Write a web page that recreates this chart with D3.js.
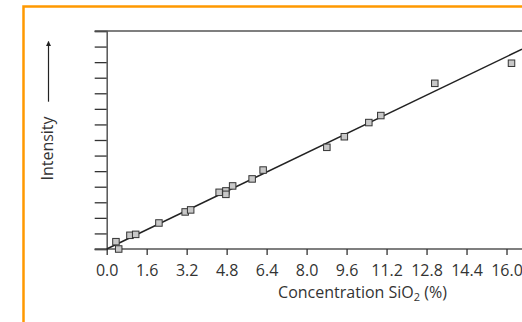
<!DOCTYPE html>
<html><head><meta charset="utf-8">
<script src="https://cdn.jsdelivr.net/npm/d3@7"></script>
<style>
html,body{margin:0;padding:0;background:#fff;}
svg{display:block;font-family:"Open Sans",sans-serif;}
</style></head>
<body>
<svg id="c" width="522" height="322"></svg>
<script>
// Data
const concentration = [0.37,0.48,0.93,1.16,2.09,3.14,3.36,4.50,4.77,4.77,5.04,5.82,6.26,8.81,9.51,10.49,10.97,13.13,16.2];
const intensity     = [0.47,0.0,0.88,0.94,1.67,2.38,2.51,3.64,3.73,3.51,4.05,4.50,5.07,6.53,7.21,8.12,8.57,10.64,11.93];
const xTickValues = [0,1.6,3.2,4.8,6.4,8.0,9.6,11.2,12.8,14.4,16.0];
const yTickValues = [0,1,2,3,4,5,6,7,8,9,10,11,12,13,14];
const fitLine = {x0:0, y0:0, x1:16.62, y1:12.83};

const svg = d3.select("#c");
const W = 522, H = 322;
const x = d3.scaleLinear().domain([0,16.62]).range([106.7,522]);
const y = d3.scaleLinear().domain([0,14]).range([249,31]);
const fs = "16px";

// orange frame
svg.append("path").attr("d",`M23.5,322 V6.5 H522`).attr("fill","none")
  .attr("stroke","#ff9900").attr("stroke-width",2.5);

const axisCol = "#555";
// y axis (ticks only)
const ya = svg.append("g").attr("transform",`translate(${x(0)},0)`)
  .call(d3.axisLeft(y).tickValues(yTickValues).tickSize(12).tickFormat(""));
ya.select(".domain").attr("stroke",axisCol).attr("stroke-width",1.5);
ya.selectAll(".tick line").attr("stroke","#333").attr("stroke-width",1.3);

// top border line
svg.append("line").attr("x1",x(0)-12).attr("x2",W).attr("y1",y(14)).attr("y2",y(14))
  .attr("stroke",axisCol).attr("stroke-width",1.5);

// x axis
const xa = svg.append("g").attr("transform",`translate(0,${y(0)})`)
  .call(d3.axisBottom(x).tickValues(xTickValues).tickSize(6).tickPadding(10)
    .tickFormat(d3.format(".1f")));
xa.select(".domain").attr("stroke",axisCol).attr("stroke-width",1.5).attr("d",`M${x(0)-12},0H${W}`);
xa.selectAll(".tick line").attr("stroke","#333").attr("stroke-width",1.3);
xa.selectAll(".tick text").attr("fill","#333").style("font-size",fs)
  .style("font-family","'Open Sans',sans-serif");

// fit line
svg.append("line").attr("x1",x(fitLine.x0)).attr("y1",y(fitLine.y0))
  .attr("x2",x(fitLine.x1)).attr("y2",y(fitLine.y1))
  .attr("stroke","#222").attr("stroke-width",1.5);

// points
const s = 6.5;
svg.append("g").selectAll("rect").data(concentration.map((c,i)=>[c,intensity[i]]))
  .join("rect")
  .attr("x",d=>x(d[0])-s/2).attr("y",d=>y(d[1])-s/2)
  .attr("width",s).attr("height",s)
  .attr("fill","#c8c8c8").attr("stroke","#333").attr("stroke-width",1);

// x title
const t = svg.append("text").attr("x",362.5).attr("y",297.5).attr("text-anchor","middle")
  .attr("fill","#333").style("font-size",fs);
t.append("tspan").text("Concentration SiO");
t.append("tspan").text("2").attr("dy",3).style("font-size","11px");
t.append("tspan").text(" (%)").attr("dy",-3);

// y title + arrow
svg.append("text").attr("transform","translate(52.5,148.5) rotate(-90)")
  .attr("text-anchor","middle").attr("fill","#333").style("font-size",fs).text("Intensity");
svg.append("defs").append("marker").attr("id","ah").attr("viewBox","0 0 10 10")
  .attr("refX",9).attr("refY",5).attr("markerWidth",5).attr("markerHeight",7)
  .attr("orient","auto").attr("markerUnits","userSpaceOnUse")
  .append("path").attr("d","M0,0 L10,5 L0,10 Z").attr("fill","#222");
svg.append("line").attr("x1",48.5).attr("x2",48.5).attr("y1",101.7).attr("y2",41.5)
  .attr("stroke","#222").attr("stroke-width",1.2).attr("marker-end","url(#ah)");
</script>
</body></html>
